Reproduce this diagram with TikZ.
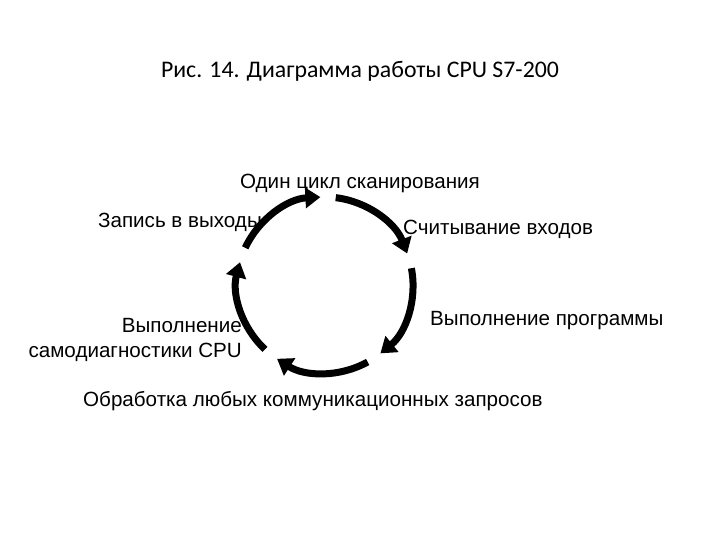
\documentclass[tikz,border=0pt]{standalone}
\usepackage{fontspec}
\setmainfont{Carlito}
\newfontfamily\arialfont{Liberation Sans}
\usetikzlibrary{arrows.meta}

\begin{document}
\begin{tikzpicture}[x=1pt, y=1pt,
    every node/.style={inner sep=0pt},
    lbl/.style={font=\arialfont\fontsize{20.6}{25}\selectfont},
    cyclearrow/.style={line width=7pt, -{Triangle[length=15pt,width=20pt]}}]
  \useasboundingbox (0,0) rectangle (720,-540);

  \node (title) [anchor=base, font=\fontsize{23.8}{28}\selectfont] at (360,-78) {Рис. 14. Диаграмма работы CPU S7-200};

  % scan cycle
  \coordinate (c) at (325,-285);
  \foreach \a [count=\i] in {155,83,11,-61,-133} {
    \coordinate (s\i) at ([shift={(\a:88)}]c);
    \draw[cyclearrow] (s\i) arc[start angle=\a, delta angle=-62, radius=88];
  }

  \node (cycle) [lbl, anchor=base] at (360,-189) {Один цикл сканирования};
  \node (write) [lbl, anchor=base east] at (262,-228) {Запись в выходы};
  \node (read) [lbl, anchor=base west] at (403,-234) {Считывание входов};
  \node (prog) [lbl, anchor=base west] at (430,-325) {Выполнение программы};
  \node (diag) [lbl, anchor=base east, align=right] at (242,-357) {Выполнение\\самодиагностики CPU};
  \node (comm) [lbl, anchor=base west] at (83,-406) {Обработка любых коммуникационных запросов};
\end{tikzpicture}
\end{document}
